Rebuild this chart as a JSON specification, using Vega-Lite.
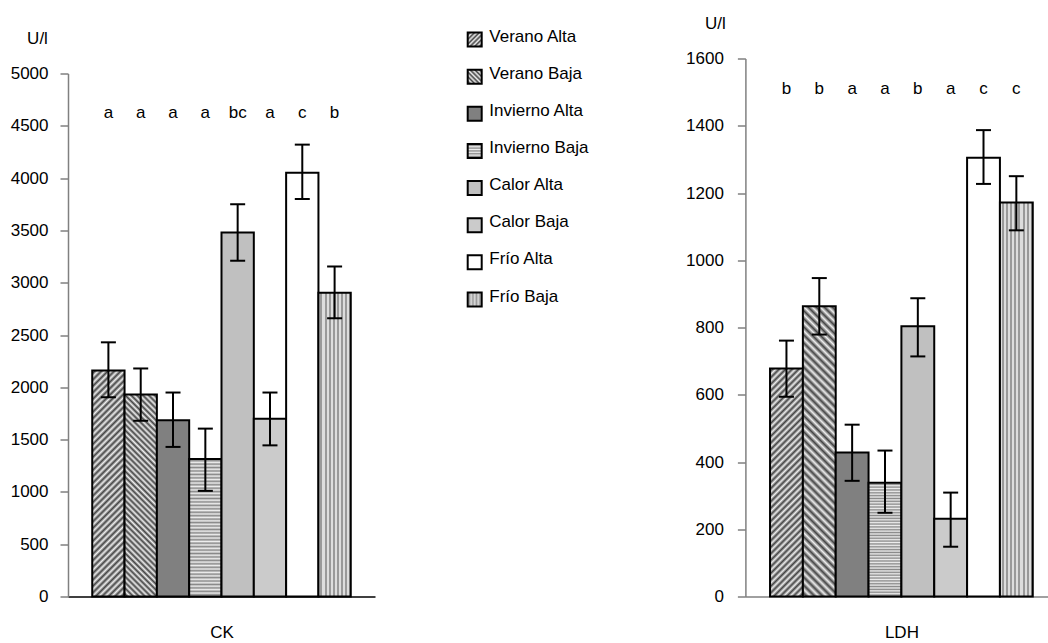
{
"$schema": "https://vega.github.io/schema/vega-lite/v6.json",
"padding": {"left": 10, "top": 13.5, "right": 0, "bottom": 0},
"bounds": "flush",
"spacing": 99.7,
"config": {
  "font": "Liberation Sans",
  "view": {"stroke": null},
  "axis": {"grid": false, "labelFontSize": 17, "titleFontSize": 17, "titleFontWeight": "normal", "labelColor": "black", "titleColor": "black"}
},
"datasets": {
  "ck": [
    {"g": "Verano Alta", "v": 2160, "lo": 1905, "hi": 2430, "sig": "a"},
    {"g": "Verano Baja", "v": 1930, "lo": 1680, "hi": 2180, "sig": "a"},
    {"g": "Invierno Alta", "v": 1685, "lo": 1430, "hi": 1950, "sig": "a"},
    {"g": "Invierno Baja", "v": 1315, "lo": 1010, "hi": 1605, "sig": "a"},
    {"g": "Calor Alta", "v": 3480, "lo": 3210, "hi": 3750, "sig": "bc"},
    {"g": "Calor Baja", "v": 1700, "lo": 1445, "hi": 1950, "sig": "a"},
    {"g": "Frío Alta", "v": 4050, "lo": 3800, "hi": 4320, "sig": "c"},
    {"g": "Frío Baja", "v": 2905, "lo": 2660, "hi": 3155, "sig": "b"}
  ],
  "ldh": [
    {"g": "Verano Alta", "v": 678, "lo": 594, "hi": 761, "sig": "b"},
    {"g": "Verano Baja", "v": 863, "lo": 779, "hi": 947, "sig": "b"},
    {"g": "Invierno Alta", "v": 428, "lo": 344, "hi": 511, "sig": "a"},
    {"g": "Invierno Baja", "v": 338, "lo": 249, "hi": 434, "sig": "a"},
    {"g": "Calor Alta", "v": 804, "lo": 714, "hi": 887, "sig": "b"},
    {"g": "Calor Baja", "v": 231, "lo": 148, "hi": 309, "sig": "a"},
    {"g": "Frío Alta", "v": 1305, "lo": 1227, "hi": 1387, "sig": "c"},
    {"g": "Frío Baja", "v": 1172, "lo": 1089, "hi": 1250, "sig": "c"}
  ]
},
"hconcat": [
{
  "width": 307, "height": 538,
  "data": {"name": "ck"},
  "layer": [
    {"mark": {"type": "bar", "stroke": "black", "strokeWidth": 2},
     "encoding": {
       "x": {"field": "g", "type": "nominal", "sort": null, "scale": {"paddingInner": 0, "paddingOuter": 0.75},
             "axis": {"labels": false, "ticks": false, "title": "CK", "domainColor": "black", "domainWidth": 1.5, "titleY": 36, "titleBaseline": "middle"}},
       "y": {"field": "v", "type": "quantitative", "title": "U/l", "scale": {"domain": [0, 5000], "range": [538, 15], "nice": false},
             "axis": {"values": [0,500,1000,1500,2000,2500,3000,3500,4000,4500,5000], "format": "d", "domainColor": "#808080", "domainWidth": 1.5, "tickColor": "#404040", "tickSize": 8, "labelPadding": 12, "titleAngle": 0, "titleX": -31, "titleY": -20, "titleAlign": "center", "titleBaseline": "middle"}},
       "fill": {"condition": [
{"test": "datum.g === 'Verano Alta'", "value": {"gradient":"linear","x1":0,"y1":0,"x2":0.16,"y2":1.12,"stops":[{"offset":0,"color":"#eee"},{"offset":0.0125,"color":"#444"},{"offset":0.025,"color":"#eee"},{"offset":0.0375,"color":"#444"},{"offset":0.05,"color":"#eee"},{"offset":0.0625,"color":"#444"},{"offset":0.075,"color":"#eee"},{"offset":0.0875,"color":"#444"},{"offset":0.1,"color":"#eee"},{"offset":0.1125,"color":"#444"},{"offset":0.125,"color":"#eee"},{"offset":0.1375,"color":"#444"},{"offset":0.15,"color":"#eee"},{"offset":0.1625,"color":"#444"},{"offset":0.175,"color":"#eee"},{"offset":0.1875,"color":"#444"},{"offset":0.2,"color":"#eee"},{"offset":0.2125,"color":"#444"},{"offset":0.225,"color":"#eee"},{"offset":0.2375,"color":"#444"},{"offset":0.25,"color":"#eee"},{"offset":0.2625,"color":"#444"},{"offset":0.275,"color":"#eee"},{"offset":0.2875,"color":"#444"},{"offset":0.3,"color":"#eee"},{"offset":0.3125,"color":"#444"},{"offset":0.325,"color":"#eee"},{"offset":0.3375,"color":"#444"},{"offset":0.35,"color":"#eee"},{"offset":0.3625,"color":"#444"},{"offset":0.375,"color":"#eee"},{"offset":0.3875,"color":"#444"},{"offset":0.4,"color":"#eee"},{"offset":0.4125,"color":"#444"},{"offset":0.425,"color":"#eee"},{"offset":0.4375,"color":"#444"},{"offset":0.45,"color":"#eee"},{"offset":0.4625,"color":"#444"},{"offset":0.475,"color":"#eee"},{"offset":0.4875,"color":"#444"},{"offset":0.5,"color":"#eee"},{"offset":0.5125,"color":"#444"},{"offset":0.525,"color":"#eee"},{"offset":0.5375,"color":"#444"},{"offset":0.55,"color":"#eee"},{"offset":0.5625,"color":"#444"},{"offset":0.575,"color":"#eee"},{"offset":0.5875,"color":"#444"},{"offset":0.6,"color":"#eee"},{"offset":0.6125,"color":"#444"},{"offset":0.625,"color":"#eee"},{"offset":0.6375,"color":"#444"},{"offset":0.65,"color":"#eee"},{"offset":0.6625,"color":"#444"},{"offset":0.675,"color":"#eee"},{"offset":0.6875,"color":"#444"},{"offset":0.7,"color":"#eee"},{"offset":0.7125,"color":"#444"},{"offset":0.725,"color":"#eee"},{"offset":0.7375,"color":"#444"},{"offset":0.75,"color":"#eee"},{"offset":0.7625,"color":"#444"},{"offset":0.775,"color":"#eee"},{"offset":0.7875,"color":"#444"},{"offset":0.8,"color":"#eee"},{"offset":0.8125,"color":"#444"},{"offset":0.825,"color":"#eee"},{"offset":0.8375,"color":"#444"},{"offset":0.85,"color":"#eee"},{"offset":0.8625,"color":"#444"},{"offset":0.875,"color":"#eee"},{"offset":0.8875,"color":"#444"},{"offset":0.9,"color":"#eee"},{"offset":0.9125,"color":"#444"},{"offset":0.925,"color":"#eee"},{"offset":0.9375,"color":"#444"},{"offset":0.95,"color":"#eee"},{"offset":0.9625,"color":"#444"},{"offset":0.975,"color":"#eee"},{"offset":0.9875,"color":"#444"},{"offset":1,"color":"#eee"}]}},
{"test": "datum.g === 'Verano Baja'", "value": {"gradient":"linear","x1":0,"y1":1,"x2":0.181,"y2":-0.131,"stops":[{"offset":0,"color":"#eee"},{"offset":0.0125,"color":"#444"},{"offset":0.025,"color":"#eee"},{"offset":0.0375,"color":"#444"},{"offset":0.05,"color":"#eee"},{"offset":0.0625,"color":"#444"},{"offset":0.075,"color":"#eee"},{"offset":0.0875,"color":"#444"},{"offset":0.1,"color":"#eee"},{"offset":0.1125,"color":"#444"},{"offset":0.125,"color":"#eee"},{"offset":0.1375,"color":"#444"},{"offset":0.15,"color":"#eee"},{"offset":0.1625,"color":"#444"},{"offset":0.175,"color":"#eee"},{"offset":0.1875,"color":"#444"},{"offset":0.2,"color":"#eee"},{"offset":0.2125,"color":"#444"},{"offset":0.225,"color":"#eee"},{"offset":0.2375,"color":"#444"},{"offset":0.25,"color":"#eee"},{"offset":0.2625,"color":"#444"},{"offset":0.275,"color":"#eee"},{"offset":0.2875,"color":"#444"},{"offset":0.3,"color":"#eee"},{"offset":0.3125,"color":"#444"},{"offset":0.325,"color":"#eee"},{"offset":0.3375,"color":"#444"},{"offset":0.35,"color":"#eee"},{"offset":0.3625,"color":"#444"},{"offset":0.375,"color":"#eee"},{"offset":0.3875,"color":"#444"},{"offset":0.4,"color":"#eee"},{"offset":0.4125,"color":"#444"},{"offset":0.425,"color":"#eee"},{"offset":0.4375,"color":"#444"},{"offset":0.45,"color":"#eee"},{"offset":0.4625,"color":"#444"},{"offset":0.475,"color":"#eee"},{"offset":0.4875,"color":"#444"},{"offset":0.5,"color":"#eee"},{"offset":0.5125,"color":"#444"},{"offset":0.525,"color":"#eee"},{"offset":0.5375,"color":"#444"},{"offset":0.55,"color":"#eee"},{"offset":0.5625,"color":"#444"},{"offset":0.575,"color":"#eee"},{"offset":0.5875,"color":"#444"},{"offset":0.6,"color":"#eee"},{"offset":0.6125,"color":"#444"},{"offset":0.625,"color":"#eee"},{"offset":0.6375,"color":"#444"},{"offset":0.65,"color":"#eee"},{"offset":0.6625,"color":"#444"},{"offset":0.675,"color":"#eee"},{"offset":0.6875,"color":"#444"},{"offset":0.7,"color":"#eee"},{"offset":0.7125,"color":"#444"},{"offset":0.725,"color":"#eee"},{"offset":0.7375,"color":"#444"},{"offset":0.75,"color":"#eee"},{"offset":0.7625,"color":"#444"},{"offset":0.775,"color":"#eee"},{"offset":0.7875,"color":"#444"},{"offset":0.8,"color":"#eee"},{"offset":0.8125,"color":"#444"},{"offset":0.825,"color":"#eee"},{"offset":0.8375,"color":"#444"},{"offset":0.85,"color":"#eee"},{"offset":0.8625,"color":"#444"},{"offset":0.875,"color":"#eee"},{"offset":0.8875,"color":"#444"},{"offset":0.9,"color":"#eee"},{"offset":0.9125,"color":"#444"},{"offset":0.925,"color":"#eee"},{"offset":0.9375,"color":"#444"},{"offset":0.95,"color":"#eee"},{"offset":0.9625,"color":"#444"},{"offset":0.975,"color":"#eee"},{"offset":0.9875,"color":"#444"},{"offset":1,"color":"#eee"}]}},
{"test": "datum.g === 'Invierno Alta'", "value": "#808080"},
{"test": "datum.g === 'Invierno Baja'", "value": {"gradient":"linear","x1":0,"y1":0,"x2":0,"y2":1,"stops":[{"offset":0,"color":"#eee"},{"offset":0.0125,"color":"#888"},{"offset":0.025,"color":"#eee"},{"offset":0.0375,"color":"#888"},{"offset":0.05,"color":"#eee"},{"offset":0.0625,"color":"#888"},{"offset":0.075,"color":"#eee"},{"offset":0.0875,"color":"#888"},{"offset":0.1,"color":"#eee"},{"offset":0.1125,"color":"#888"},{"offset":0.125,"color":"#eee"},{"offset":0.1375,"color":"#888"},{"offset":0.15,"color":"#eee"},{"offset":0.1625,"color":"#888"},{"offset":0.175,"color":"#eee"},{"offset":0.1875,"color":"#888"},{"offset":0.2,"color":"#eee"},{"offset":0.2125,"color":"#888"},{"offset":0.225,"color":"#eee"},{"offset":0.2375,"color":"#888"},{"offset":0.25,"color":"#eee"},{"offset":0.2625,"color":"#888"},{"offset":0.275,"color":"#eee"},{"offset":0.2875,"color":"#888"},{"offset":0.3,"color":"#eee"},{"offset":0.3125,"color":"#888"},{"offset":0.325,"color":"#eee"},{"offset":0.3375,"color":"#888"},{"offset":0.35,"color":"#eee"},{"offset":0.3625,"color":"#888"},{"offset":0.375,"color":"#eee"},{"offset":0.3875,"color":"#888"},{"offset":0.4,"color":"#eee"},{"offset":0.4125,"color":"#888"},{"offset":0.425,"color":"#eee"},{"offset":0.4375,"color":"#888"},{"offset":0.45,"color":"#eee"},{"offset":0.4625,"color":"#888"},{"offset":0.475,"color":"#eee"},{"offset":0.4875,"color":"#888"},{"offset":0.5,"color":"#eee"},{"offset":0.5125,"color":"#888"},{"offset":0.525,"color":"#eee"},{"offset":0.5375,"color":"#888"},{"offset":0.55,"color":"#eee"},{"offset":0.5625,"color":"#888"},{"offset":0.575,"color":"#eee"},{"offset":0.5875,"color":"#888"},{"offset":0.6,"color":"#eee"},{"offset":0.6125,"color":"#888"},{"offset":0.625,"color":"#eee"},{"offset":0.6375,"color":"#888"},{"offset":0.65,"color":"#eee"},{"offset":0.6625,"color":"#888"},{"offset":0.675,"color":"#eee"},{"offset":0.6875,"color":"#888"},{"offset":0.7,"color":"#eee"},{"offset":0.7125,"color":"#888"},{"offset":0.725,"color":"#eee"},{"offset":0.7375,"color":"#888"},{"offset":0.75,"color":"#eee"},{"offset":0.7625,"color":"#888"},{"offset":0.775,"color":"#eee"},{"offset":0.7875,"color":"#888"},{"offset":0.8,"color":"#eee"},{"offset":0.8125,"color":"#888"},{"offset":0.825,"color":"#eee"},{"offset":0.8375,"color":"#888"},{"offset":0.85,"color":"#eee"},{"offset":0.8625,"color":"#888"},{"offset":0.875,"color":"#eee"},{"offset":0.8875,"color":"#888"},{"offset":0.9,"color":"#eee"},{"offset":0.9125,"color":"#888"},{"offset":0.925,"color":"#eee"},{"offset":0.9375,"color":"#888"},{"offset":0.95,"color":"#eee"},{"offset":0.9625,"color":"#888"},{"offset":0.975,"color":"#eee"},{"offset":0.9875,"color":"#888"},{"offset":1,"color":"#eee"}]}},
{"test": "datum.g === 'Calor Alta'", "value": "#c0c0c0"},
{"test": "datum.g === 'Calor Baja'", "value": "#cbcbcb"},
{"test": "datum.g === 'Frío Baja'", "value": {"gradient":"linear","x1":0,"y1":0,"x2":1,"y2":0,"stops":[{"offset":0,"color":"#ddd"},{"offset":0.0625,"color":"#ddd"},{"offset":0.0625,"color":"#999"},{"offset":0.125,"color":"#999"},{"offset":0.125,"color":"#ddd"},{"offset":0.1875,"color":"#ddd"},{"offset":0.1875,"color":"#999"},{"offset":0.25,"color":"#999"},{"offset":0.25,"color":"#ddd"},{"offset":0.3125,"color":"#ddd"},{"offset":0.3125,"color":"#999"},{"offset":0.375,"color":"#999"},{"offset":0.375,"color":"#ddd"},{"offset":0.4375,"color":"#ddd"},{"offset":0.4375,"color":"#999"},{"offset":0.5,"color":"#999"},{"offset":0.5,"color":"#ddd"},{"offset":0.5625,"color":"#ddd"},{"offset":0.5625,"color":"#999"},{"offset":0.625,"color":"#999"},{"offset":0.625,"color":"#ddd"},{"offset":0.6875,"color":"#ddd"},{"offset":0.6875,"color":"#999"},{"offset":0.75,"color":"#999"},{"offset":0.75,"color":"#ddd"},{"offset":0.8125,"color":"#ddd"},{"offset":0.8125,"color":"#999"},{"offset":0.875,"color":"#999"},{"offset":0.875,"color":"#ddd"},{"offset":0.9375,"color":"#ddd"},{"offset":0.9375,"color":"#999"},{"offset":1,"color":"#999"}]}}
       ], "value": "#ffffff"}
     }},
    {"mark": {"type": "rule", "strokeWidth": 2, "color": "black"},
     "encoding": {"x": {"field": "g", "type": "nominal", "sort": null}, "y": {"field": "lo", "type": "quantitative", "title": "U/l"}, "y2": {"field": "hi"}}},
    {"mark": {"type": "tick", "size": 15, "thickness": 2, "color": "black", "opacity": 1},
     "encoding": {"x": {"field": "g", "type": "nominal", "sort": null}, "y": {"field": "lo", "type": "quantitative", "title": "U/l"}}},
    {"mark": {"type": "tick", "size": 15, "thickness": 2, "color": "black", "opacity": 1},
     "encoding": {"x": {"field": "g", "type": "nominal", "sort": null}, "y": {"field": "hi", "type": "quantitative", "title": "U/l"}}},
    {"mark": {"type": "text", "fontSize": 17, "baseline": "middle", "color": "black"},
     "encoding": {"x": {"field": "g", "type": "nominal", "sort": null}, "y": {"datum": 4620, "type": "quantitative", "title": "U/l"}, "text": {"field": "sig"}}}
  ]
},
{
  "width": 170.6, "height": 538,
  "data": {"name": "ck"},
  "layer": [
    {"mark": {"type": "point", "shape": "square", "size": 196, "filled": true, "stroke": "black", "strokeWidth": 2, "opacity": 1, "yOffset": 3},
     "encoding": {
       "x": {"datum": 0, "type": "quantitative", "scale": {"domain": [0, 1]}, "axis": null},
       "y": {"field": "g", "type": "nominal", "sort": null, "scale": {"type": "point", "range": [-22, 238], "padding": 0}, "axis": null},
       "fill": {"condition": [
{"test": "datum.g === 'Verano Alta'", "value": {"gradient":"linear","x1":0,"y1":0,"x2":1,"y2":1,"stops":[{"offset":0,"color":"#eee"},{"offset":0.0833,"color":"#444"},{"offset":0.1667,"color":"#eee"},{"offset":0.25,"color":"#444"},{"offset":0.3333,"color":"#eee"},{"offset":0.4167,"color":"#444"},{"offset":0.5,"color":"#eee"},{"offset":0.5833,"color":"#444"},{"offset":0.6667,"color":"#eee"},{"offset":0.75,"color":"#444"},{"offset":0.8333,"color":"#eee"},{"offset":0.9167,"color":"#444"},{"offset":1,"color":"#eee"}]}},
{"test": "datum.g === 'Verano Baja'", "value": {"gradient":"linear","x1":0,"y1":1,"x2":1,"y2":0,"stops":[{"offset":0,"color":"#eee"},{"offset":0.0833,"color":"#444"},{"offset":0.1667,"color":"#eee"},{"offset":0.25,"color":"#444"},{"offset":0.3333,"color":"#eee"},{"offset":0.4167,"color":"#444"},{"offset":0.5,"color":"#eee"},{"offset":0.5833,"color":"#444"},{"offset":0.6667,"color":"#eee"},{"offset":0.75,"color":"#444"},{"offset":0.8333,"color":"#eee"},{"offset":0.9167,"color":"#444"},{"offset":1,"color":"#eee"}]}},
{"test": "datum.g === 'Invierno Alta'", "value": "#808080"},
{"test": "datum.g === 'Invierno Baja'", "value": {"gradient":"linear","x1":0,"y1":0,"x2":0,"y2":1,"stops":[{"offset":0,"color":"#eee"},{"offset":0.1,"color":"#888"},{"offset":0.2,"color":"#eee"},{"offset":0.3,"color":"#888"},{"offset":0.4,"color":"#eee"},{"offset":0.5,"color":"#888"},{"offset":0.6,"color":"#eee"},{"offset":0.7,"color":"#888"},{"offset":0.8,"color":"#eee"},{"offset":0.9,"color":"#888"},{"offset":1,"color":"#eee"}]}},
{"test": "datum.g === 'Calor Alta'", "value": "#c0c0c0"},
{"test": "datum.g === 'Calor Baja'", "value": "#cbcbcb"},
{"test": "datum.g === 'Frío Baja'", "value": {"gradient":"linear","x1":0,"y1":0,"x2":1,"y2":0,"stops":[{"offset":0,"color":"#ddd"},{"offset":0.125,"color":"#999"},{"offset":0.25,"color":"#ddd"},{"offset":0.375,"color":"#999"},{"offset":0.5,"color":"#ddd"},{"offset":0.625,"color":"#999"},{"offset":0.75,"color":"#ddd"},{"offset":0.875,"color":"#999"},{"offset":1,"color":"#ddd"}]}}
       ], "value": "#ffffff"}
     }},
    {"mark": {"type": "text", "fontSize": 17, "align": "left", "baseline": "middle", "dx": 14.6, "color": "black"},
     "encoding": {
       "x": {"datum": 0, "type": "quantitative"},
       "y": {"field": "g", "type": "nominal", "sort": null},
       "text": {"field": "g"}
     }}
  ]
},
{
  "width": 312, "height": 538,
  "data": {"name": "ldh"},
  "layer": [
    {"mark": {"type": "bar", "stroke": "black", "strokeWidth": 2},
     "encoding": {
       "x": {"field": "g", "type": "nominal", "sort": null, "scale": {"paddingInner": 0, "paddingOuter": 0.75},
             "axis": {"labels": false, "ticks": false, "title": "LDH", "domainColor": "#808080", "domainWidth": 1.5, "titleY": 36, "titleBaseline": "middle"}},
       "y": {"field": "v", "type": "quantitative", "title": "U/l", "scale": {"domain": [0, 1600], "nice": false},
             "axis": {"values": [0,200,400,600,800,1000,1200,1400,1600], "format": "d", "domainColor": "#808080", "domainWidth": 1.5, "tickColor": "#404040", "tickSize": 8, "labelPadding": 14, "titleAngle": 0, "titleX": -30.5, "titleY": -35.5, "titleAlign": "center", "titleBaseline": "middle"}},
       "fill": {"condition": [
{"test": "datum.g === 'Verano Alta'", "value": {"gradient":"linear","x1":0,"y1":0,"x2":0.162,"y2":1.121,"stops":[{"offset":0,"color":"#eee"},{"offset":0.0125,"color":"#444"},{"offset":0.025,"color":"#eee"},{"offset":0.0375,"color":"#444"},{"offset":0.05,"color":"#eee"},{"offset":0.0625,"color":"#444"},{"offset":0.075,"color":"#eee"},{"offset":0.0875,"color":"#444"},{"offset":0.1,"color":"#eee"},{"offset":0.1125,"color":"#444"},{"offset":0.125,"color":"#eee"},{"offset":0.1375,"color":"#444"},{"offset":0.15,"color":"#eee"},{"offset":0.1625,"color":"#444"},{"offset":0.175,"color":"#eee"},{"offset":0.1875,"color":"#444"},{"offset":0.2,"color":"#eee"},{"offset":0.2125,"color":"#444"},{"offset":0.225,"color":"#eee"},{"offset":0.2375,"color":"#444"},{"offset":0.25,"color":"#eee"},{"offset":0.2625,"color":"#444"},{"offset":0.275,"color":"#eee"},{"offset":0.2875,"color":"#444"},{"offset":0.3,"color":"#eee"},{"offset":0.3125,"color":"#444"},{"offset":0.325,"color":"#eee"},{"offset":0.3375,"color":"#444"},{"offset":0.35,"color":"#eee"},{"offset":0.3625,"color":"#444"},{"offset":0.375,"color":"#eee"},{"offset":0.3875,"color":"#444"},{"offset":0.4,"color":"#eee"},{"offset":0.4125,"color":"#444"},{"offset":0.425,"color":"#eee"},{"offset":0.4375,"color":"#444"},{"offset":0.45,"color":"#eee"},{"offset":0.4625,"color":"#444"},{"offset":0.475,"color":"#eee"},{"offset":0.4875,"color":"#444"},{"offset":0.5,"color":"#eee"},{"offset":0.5125,"color":"#444"},{"offset":0.525,"color":"#eee"},{"offset":0.5375,"color":"#444"},{"offset":0.55,"color":"#eee"},{"offset":0.5625,"color":"#444"},{"offset":0.575,"color":"#eee"},{"offset":0.5875,"color":"#444"},{"offset":0.6,"color":"#eee"},{"offset":0.6125,"color":"#444"},{"offset":0.625,"color":"#eee"},{"offset":0.6375,"color":"#444"},{"offset":0.65,"color":"#eee"},{"offset":0.6625,"color":"#444"},{"offset":0.675,"color":"#eee"},{"offset":0.6875,"color":"#444"},{"offset":0.7,"color":"#eee"},{"offset":0.7125,"color":"#444"},{"offset":0.725,"color":"#eee"},{"offset":0.7375,"color":"#444"},{"offset":0.75,"color":"#eee"},{"offset":0.7625,"color":"#444"},{"offset":0.775,"color":"#eee"},{"offset":0.7875,"color":"#444"},{"offset":0.8,"color":"#eee"},{"offset":0.8125,"color":"#444"},{"offset":0.825,"color":"#eee"},{"offset":0.8375,"color":"#444"},{"offset":0.85,"color":"#eee"},{"offset":0.8625,"color":"#444"},{"offset":0.875,"color":"#eee"},{"offset":0.8875,"color":"#444"},{"offset":0.9,"color":"#eee"},{"offset":0.9125,"color":"#444"},{"offset":0.925,"color":"#eee"},{"offset":0.9375,"color":"#444"},{"offset":0.95,"color":"#eee"},{"offset":0.9625,"color":"#444"},{"offset":0.975,"color":"#eee"},{"offset":0.9875,"color":"#444"},{"offset":1,"color":"#eee"}]}},
{"test": "datum.g === 'Verano Baja'", "value": {"gradient":"linear","x1":0,"y1":1,"x2":0.1245,"y2":-0.099,"stops":[{"offset":0,"color":"#eee"},{"offset":0.0125,"color":"#444"},{"offset":0.025,"color":"#eee"},{"offset":0.0375,"color":"#444"},{"offset":0.05,"color":"#eee"},{"offset":0.0625,"color":"#444"},{"offset":0.075,"color":"#eee"},{"offset":0.0875,"color":"#444"},{"offset":0.1,"color":"#eee"},{"offset":0.1125,"color":"#444"},{"offset":0.125,"color":"#eee"},{"offset":0.1375,"color":"#444"},{"offset":0.15,"color":"#eee"},{"offset":0.1625,"color":"#444"},{"offset":0.175,"color":"#eee"},{"offset":0.1875,"color":"#444"},{"offset":0.2,"color":"#eee"},{"offset":0.2125,"color":"#444"},{"offset":0.225,"color":"#eee"},{"offset":0.2375,"color":"#444"},{"offset":0.25,"color":"#eee"},{"offset":0.2625,"color":"#444"},{"offset":0.275,"color":"#eee"},{"offset":0.2875,"color":"#444"},{"offset":0.3,"color":"#eee"},{"offset":0.3125,"color":"#444"},{"offset":0.325,"color":"#eee"},{"offset":0.3375,"color":"#444"},{"offset":0.35,"color":"#eee"},{"offset":0.3625,"color":"#444"},{"offset":0.375,"color":"#eee"},{"offset":0.3875,"color":"#444"},{"offset":0.4,"color":"#eee"},{"offset":0.4125,"color":"#444"},{"offset":0.425,"color":"#eee"},{"offset":0.4375,"color":"#444"},{"offset":0.45,"color":"#eee"},{"offset":0.4625,"color":"#444"},{"offset":0.475,"color":"#eee"},{"offset":0.4875,"color":"#444"},{"offset":0.5,"color":"#eee"},{"offset":0.5125,"color":"#444"},{"offset":0.525,"color":"#eee"},{"offset":0.5375,"color":"#444"},{"offset":0.55,"color":"#eee"},{"offset":0.5625,"color":"#444"},{"offset":0.575,"color":"#eee"},{"offset":0.5875,"color":"#444"},{"offset":0.6,"color":"#eee"},{"offset":0.6125,"color":"#444"},{"offset":0.625,"color":"#eee"},{"offset":0.6375,"color":"#444"},{"offset":0.65,"color":"#eee"},{"offset":0.6625,"color":"#444"},{"offset":0.675,"color":"#eee"},{"offset":0.6875,"color":"#444"},{"offset":0.7,"color":"#eee"},{"offset":0.7125,"color":"#444"},{"offset":0.725,"color":"#eee"},{"offset":0.7375,"color":"#444"},{"offset":0.75,"color":"#eee"},{"offset":0.7625,"color":"#444"},{"offset":0.775,"color":"#eee"},{"offset":0.7875,"color":"#444"},{"offset":0.8,"color":"#eee"},{"offset":0.8125,"color":"#444"},{"offset":0.825,"color":"#eee"},{"offset":0.8375,"color":"#444"},{"offset":0.85,"color":"#eee"},{"offset":0.8625,"color":"#444"},{"offset":0.875,"color":"#eee"},{"offset":0.8875,"color":"#444"},{"offset":0.9,"color":"#eee"},{"offset":0.9125,"color":"#444"},{"offset":0.925,"color":"#eee"},{"offset":0.9375,"color":"#444"},{"offset":0.95,"color":"#eee"},{"offset":0.9625,"color":"#444"},{"offset":0.975,"color":"#eee"},{"offset":0.9875,"color":"#444"},{"offset":1,"color":"#eee"}]}},
{"test": "datum.g === 'Invierno Alta'", "value": "#808080"},
{"test": "datum.g === 'Invierno Baja'", "value": {"gradient":"linear","x1":0,"y1":0,"x2":0,"y2":1,"stops":[{"offset":0,"color":"#eee"},{"offset":0.0125,"color":"#888"},{"offset":0.025,"color":"#eee"},{"offset":0.0375,"color":"#888"},{"offset":0.05,"color":"#eee"},{"offset":0.0625,"color":"#888"},{"offset":0.075,"color":"#eee"},{"offset":0.0875,"color":"#888"},{"offset":0.1,"color":"#eee"},{"offset":0.1125,"color":"#888"},{"offset":0.125,"color":"#eee"},{"offset":0.1375,"color":"#888"},{"offset":0.15,"color":"#eee"},{"offset":0.1625,"color":"#888"},{"offset":0.175,"color":"#eee"},{"offset":0.1875,"color":"#888"},{"offset":0.2,"color":"#eee"},{"offset":0.2125,"color":"#888"},{"offset":0.225,"color":"#eee"},{"offset":0.2375,"color":"#888"},{"offset":0.25,"color":"#eee"},{"offset":0.2625,"color":"#888"},{"offset":0.275,"color":"#eee"},{"offset":0.2875,"color":"#888"},{"offset":0.3,"color":"#eee"},{"offset":0.3125,"color":"#888"},{"offset":0.325,"color":"#eee"},{"offset":0.3375,"color":"#888"},{"offset":0.35,"color":"#eee"},{"offset":0.3625,"color":"#888"},{"offset":0.375,"color":"#eee"},{"offset":0.3875,"color":"#888"},{"offset":0.4,"color":"#eee"},{"offset":0.4125,"color":"#888"},{"offset":0.425,"color":"#eee"},{"offset":0.4375,"color":"#888"},{"offset":0.45,"color":"#eee"},{"offset":0.4625,"color":"#888"},{"offset":0.475,"color":"#eee"},{"offset":0.4875,"color":"#888"},{"offset":0.5,"color":"#eee"},{"offset":0.5125,"color":"#888"},{"offset":0.525,"color":"#eee"},{"offset":0.5375,"color":"#888"},{"offset":0.55,"color":"#eee"},{"offset":0.5625,"color":"#888"},{"offset":0.575,"color":"#eee"},{"offset":0.5875,"color":"#888"},{"offset":0.6,"color":"#eee"},{"offset":0.6125,"color":"#888"},{"offset":0.625,"color":"#eee"},{"offset":0.6375,"color":"#888"},{"offset":0.65,"color":"#eee"},{"offset":0.6625,"color":"#888"},{"offset":0.675,"color":"#eee"},{"offset":0.6875,"color":"#888"},{"offset":0.7,"color":"#eee"},{"offset":0.7125,"color":"#888"},{"offset":0.725,"color":"#eee"},{"offset":0.7375,"color":"#888"},{"offset":0.75,"color":"#eee"},{"offset":0.7625,"color":"#888"},{"offset":0.775,"color":"#eee"},{"offset":0.7875,"color":"#888"},{"offset":0.8,"color":"#eee"},{"offset":0.8125,"color":"#888"},{"offset":0.825,"color":"#eee"},{"offset":0.8375,"color":"#888"},{"offset":0.85,"color":"#eee"},{"offset":0.8625,"color":"#888"},{"offset":0.875,"color":"#eee"},{"offset":0.8875,"color":"#888"},{"offset":0.9,"color":"#eee"},{"offset":0.9125,"color":"#888"},{"offset":0.925,"color":"#eee"},{"offset":0.9375,"color":"#888"},{"offset":0.95,"color":"#eee"},{"offset":0.9625,"color":"#888"},{"offset":0.975,"color":"#eee"},{"offset":0.9875,"color":"#888"},{"offset":1,"color":"#eee"}]}},
{"test": "datum.g === 'Calor Alta'", "value": "#c0c0c0"},
{"test": "datum.g === 'Calor Baja'", "value": "#cbcbcb"},
{"test": "datum.g === 'Frío Baja'", "value": {"gradient":"linear","x1":0,"y1":0,"x2":1,"y2":0,"stops":[{"offset":0,"color":"#ddd"},{"offset":0.0625,"color":"#ddd"},{"offset":0.0625,"color":"#999"},{"offset":0.125,"color":"#999"},{"offset":0.125,"color":"#ddd"},{"offset":0.1875,"color":"#ddd"},{"offset":0.1875,"color":"#999"},{"offset":0.25,"color":"#999"},{"offset":0.25,"color":"#ddd"},{"offset":0.3125,"color":"#ddd"},{"offset":0.3125,"color":"#999"},{"offset":0.375,"color":"#999"},{"offset":0.375,"color":"#ddd"},{"offset":0.4375,"color":"#ddd"},{"offset":0.4375,"color":"#999"},{"offset":0.5,"color":"#999"},{"offset":0.5,"color":"#ddd"},{"offset":0.5625,"color":"#ddd"},{"offset":0.5625,"color":"#999"},{"offset":0.625,"color":"#999"},{"offset":0.625,"color":"#ddd"},{"offset":0.6875,"color":"#ddd"},{"offset":0.6875,"color":"#999"},{"offset":0.75,"color":"#999"},{"offset":0.75,"color":"#ddd"},{"offset":0.8125,"color":"#ddd"},{"offset":0.8125,"color":"#999"},{"offset":0.875,"color":"#999"},{"offset":0.875,"color":"#ddd"},{"offset":0.9375,"color":"#ddd"},{"offset":0.9375,"color":"#999"},{"offset":1,"color":"#999"}]}}
       ], "value": "#ffffff"}
     }},
    {"mark": {"type": "rule", "strokeWidth": 2, "color": "black"},
     "encoding": {"x": {"field": "g", "type": "nominal", "sort": null}, "y": {"field": "lo", "type": "quantitative", "title": "U/l"}, "y2": {"field": "hi"}}},
    {"mark": {"type": "tick", "size": 15, "thickness": 2, "color": "black", "opacity": 1},
     "encoding": {"x": {"field": "g", "type": "nominal", "sort": null}, "y": {"field": "lo", "type": "quantitative", "title": "U/l"}}},
    {"mark": {"type": "tick", "size": 15, "thickness": 2, "color": "black", "opacity": 1},
     "encoding": {"x": {"field": "g", "type": "nominal", "sort": null}, "y": {"field": "hi", "type": "quantitative", "title": "U/l"}}},
    {"mark": {"type": "text", "fontSize": 17, "baseline": "middle", "color": "black"},
     "encoding": {"x": {"field": "g", "type": "nominal", "sort": null}, "y": {"datum": 1510, "type": "quantitative", "title": "U/l"}, "text": {"field": "sig"}}}
  ]
}
]
}
